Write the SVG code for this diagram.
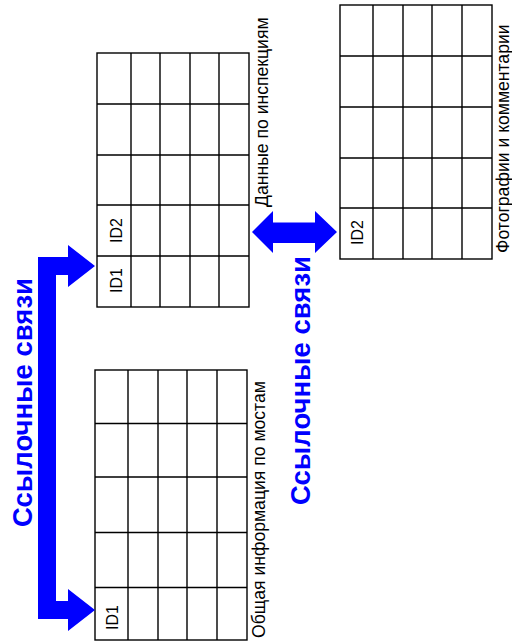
<svg xmlns="http://www.w3.org/2000/svg" width="512" height="643" viewBox="0 0 512 643">
<style>
.grid{fill:#fff;stroke:#000;stroke-width:1.4}
.gl{stroke:#000;stroke-width:1.4}
.lbl{font-family:"Liberation Sans",Arial,sans-serif;font-size:16px;fill:#000}
.cap{font-family:"Liberation Sans",Arial,sans-serif;font-size:17.6px;fill:#000}
.blue{font-family:"Liberation Sans",Arial,sans-serif;font-size:27.5px;font-weight:bold;fill:#0000ff}
.arr{fill:#0000ff}
</style>
<rect width="512" height="643" fill="#fff"/>
<g id="table-bridges">
<rect class="grid" x="95" y="370" width="152" height="270"/>
<path class="gl" d="M128 370V640M158 370V640M187 370V640M217 370V640M95 423.5H247M95 477H247M95 532.5H247M95 587.5H247"/>
<text class="lbl" transform="translate(118,630) rotate(-90)">ID1</text>
<text class="cap" transform="translate(265,638) rotate(-90)">Общая информация по мостам</text>
</g>
<g id="table-inspections">
<rect class="grid" x="97" y="53" width="152" height="254"/>
<path class="gl" d="M131 53V307M160 53V307M190 53V307M219 53V307M97 104H249M97 155H249M97 205H249M97 256H249"/>
<text class="lbl" transform="translate(122,293) rotate(-90)">ID1</text>
<text class="lbl" transform="translate(122,243) rotate(-90)">ID2</text>
<text class="cap" transform="translate(268,207) rotate(-90)">Данные по инспекциям</text>
</g>
<g id="table-photos">
<rect class="grid" x="340" y="5" width="152" height="254"/>
<path class="gl" d="M373 5V259M403 5V259M432 5V259M462 5V259M340 56H492M340 107H492M340 158H492M340 208H492"/>
<text class="lbl" transform="translate(363,245) rotate(-90)">ID2</text>
<text class="cap" transform="translate(509,253) rotate(-90)">Фотографии и комментарии</text>
</g>
<g id="connectors">
<polygon class="arr" points="38,257 68,257 68,245 95,266 68,287 68,275 56,275 56,601 68,601 68,589 95,610 68,631 68,619 38,619"/>
<polygon class="arr" points="252,232 273,211 273,222.5 315,222.5 315,211 337,232 315,253 315,243 273,243 273,253"/>
<text class="blue" transform="translate(32,527) rotate(-90)">Ссылочные связи</text>
<text class="blue" transform="translate(310,505) rotate(-90)">Ссылочные связи</text>
</g>
</svg>
